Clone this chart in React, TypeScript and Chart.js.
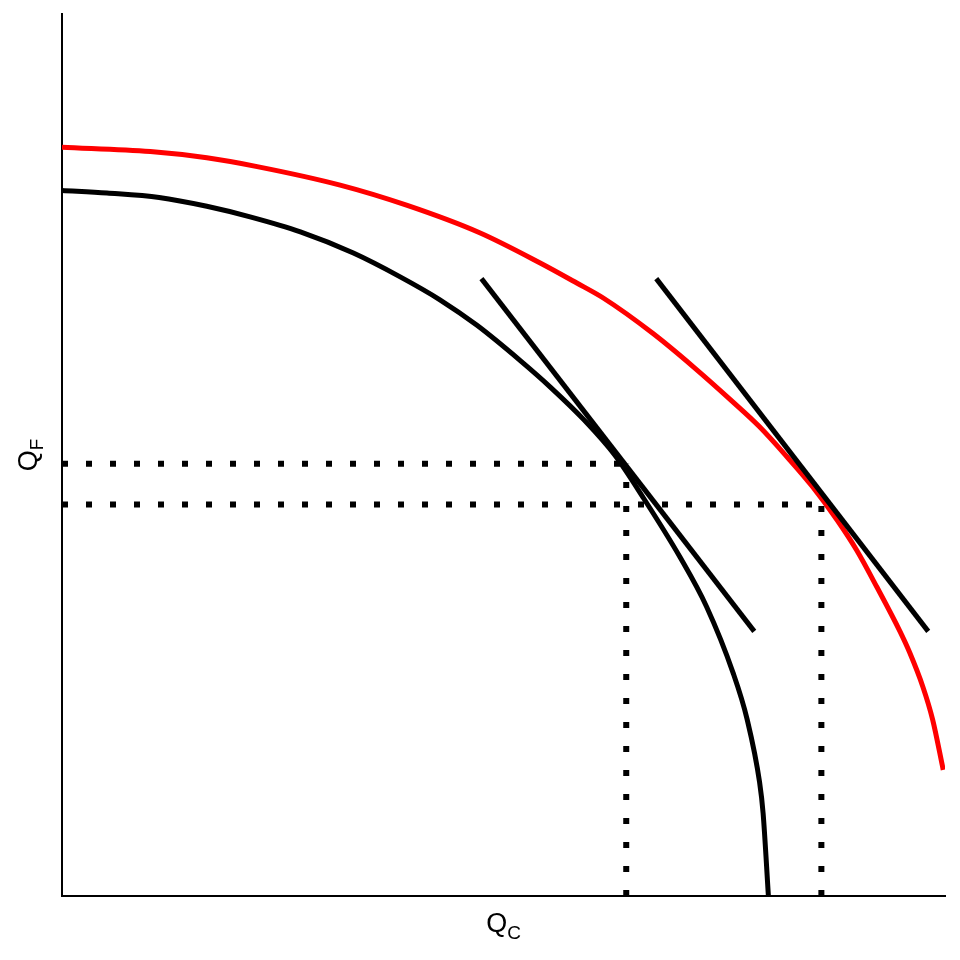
import { useEffect, useRef } from 'react'
import { Chart, registerables } from 'chart.js'

Chart.register(...registerables)

// production possibility frontiers (Q_C across, Q_F up), both axes 0..100
const blackQC = [0, 5.1, 11.0, 16.4, 21.3, 27.0, 33.0, 38.3, 42.8, 47.0, 51.9, 55.3, 59.2, 62.6, 65.8, 70.0, 73.0, 76.0, 77.6, 79.0, 79.4, 80.0]
const blackQF = [80.0, 79.7, 79.2, 78.2, 77.0, 75.3, 72.9, 70.2, 67.6, 64.7, 60.7, 57.7, 53.9, 50.0, 45.2, 38.4, 32.8, 25.3, 20.0, 12.9, 9.4, 0]
const redQC = [0, 10.0, 16.4, 22.1, 31.5, 39.1, 47.3, 54.1, 58.3, 61.3, 66.9, 71.5, 76.0, 79.0, 82.1, 85.0, 87.8, 90.0, 92.3, 94.9, 96.0, 97.5, 98.6, 99.8]
const redQF = [84.9, 84.4, 83.7, 82.7, 80.6, 78.3, 75.2, 71.8, 69.5, 67.8, 63.8, 60.0, 56.0, 53.2, 49.8, 46.4, 42.6, 39.2, 35.0, 30.0, 27.6, 23.7, 20.0, 14.3]

// price lines touching each frontier
const tangent1QC = [47.5, 78.4]
const tangent2QC = [67.3, 98.1]
const tangentQF = [70, 30]

// dotted guides to the axes: [black, red]
const guideQC = [63.9, 86.0]
const guideQF = [49.0, 44.4]

const xTitle = ['Q', 'C']
const yTitle = ['Q', 'F']

const pts = (xs: number[], ys: number[]) => xs.map((x, i) => ({ x, y: ys[i] }))

const solid = (data: { x: number; y: number }[], color: string, smooth = false) => ({
  data,
  borderColor: color,
  borderWidth: 5,
  showLine: true,
  pointRadius: 0,
  borderCapStyle: 'butt' as const,
  borderJoinStyle: 'round' as const,
  cubicInterpolationMode: smooth ? ('monotone' as const) : ('default' as const),
})

const dotted = (data: { x: number; y: number }[]) => ({
  data,
  borderColor: '#000',
  borderWidth: 6,
  borderDash: [6, 18],
  showLine: true,
  pointRadius: 0,
  borderCapStyle: 'butt' as const,
})

const axisTitles = {
  id: 'axisTitles',
  afterDraw(chart: Chart) {
    const { ctx, chartArea: a } = chart
    const big = '27px "Liberation Sans", Arial, sans-serif'
    const small = '19px "Liberation Sans", Arial, sans-serif'
    const draw = ([main, sub]: string[], cx: number, base: number, shift: number) => {
      ctx.font = big
      const wm = ctx.measureText(main).width
      ctx.font = small
      const ws = ctx.measureText(sub).width
      const x0 = cx - (wm + ws) / 2
      ctx.font = big
      ctx.fillText(main, x0, base)
      ctx.font = small
      ctx.fillText(sub, x0 + wm, base + shift)
    }
    ctx.save()
    ctx.fillStyle = '#000'
    ctx.textAlign = 'left'
    ctx.textBaseline = 'alphabetic'
    draw(xTitle, (a.left + a.right) / 2, a.bottom + 36, 7)
    ctx.translate(a.left - 25, (a.top + a.bottom) / 2)
    ctx.rotate(-Math.PI / 2)
    draw(yTitle, 0, 0, 6)
    ctx.restore()
  },
}

export default function App() {
  const ref = useRef<HTMLCanvasElement>(null)

  useEffect(() => {
    if (!ref.current) return
    const axis = {
      type: 'linear' as const,
      min: 0,
      max: 100,
      grid: { display: false, drawTicks: false },
      ticks: { display: false },
      border: { display: true, color: '#000', width: 2 },
    }
    const chart = new Chart(ref.current, {
      type: 'scatter',
      data: {
        datasets: [
          dotted([{ x: 0, y: guideQF[0] }, { x: guideQC[0], y: guideQF[0] }]),
          dotted([{ x: guideQC[0], y: 0 }, { x: guideQC[0], y: guideQF[0] }]),
          dotted([{ x: 0, y: guideQF[1] }, { x: guideQC[1], y: guideQF[1] }]),
          dotted([{ x: guideQC[1], y: 0 }, { x: guideQC[1], y: guideQF[1] }]),
          solid(pts(tangent1QC, tangentQF), '#000'),
          solid(pts(tangent2QC, tangentQF), '#000'),
          solid(pts(redQC, redQF), '#FF0000', true),
          solid(pts(blackQC, blackQF), '#000', true),
        ],
      },
      options: {
        animation: false,
        responsive: true,
        maintainAspectRatio: false,
        events: [],
        layout: { padding: { left: 62, right: 15, top: 14, bottom: 64 } },
        plugins: { legend: { display: false }, tooltip: { enabled: false } },
        scales: {
          x: { ...axis, afterFit: (s: any) => { s.height = 0 } },
          y: { ...axis, afterFit: (s: any) => { s.width = 0 } },
        },
      },
      plugins: [axisTitles],
    })
    return () => chart.destroy()
  }, [])

  return (
    <div style={{ position: 'absolute', left: 0, top: 0, width: 960, height: 960, background: '#fff' }}>
      <canvas ref={ref} role="img" aria-label="Production possibility frontiers" />
    </div>
  )
}
